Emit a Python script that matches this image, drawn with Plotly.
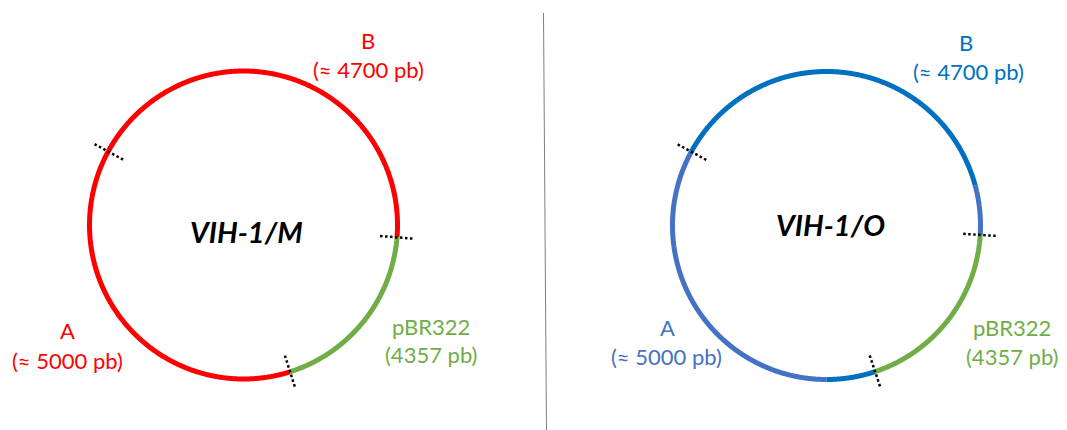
import numpy as np
import plotly.graph_objects as go

# --- Data ---------------------------------------------------------------
panels = ["VIH-1/M", "VIH-1/O"]
# boundary angles (degrees, counter-clockwise from 3 o'clock): A/B, B/pBR322, pBR322/A
left_ticks = [151.5, -4.6, -72.4]
right_ticks = [151.4, -3.5, -71.6]
labels_B = ["B", "(≈ 4700 pb)"]
labels_A = ["A", "(≈ 5000 pb)"]
labels_p = ["pBR322", "(4357 pb)"]

# --- Style --------------------------------------------------------------
RED = "#FF0000"
GREEN = "#70AD47"
DBLUE = "#0070C0"
LBLUE = "#4472C4"
R = 154
OFF = 8  # page body margin

fig = go.Figure()


def arc(cx, cy, a0, a1, color):
    t = np.radians(np.linspace(a0, a1, 400))
    fig.add_trace(go.Scatter(x=cx + R * np.cos(t), y=cy - R * np.sin(t), mode="lines",
                             line=dict(color=color, width=5, simplify=False),
                             hoverinfo="skip", showlegend=False))


def tick(cx, cy, a):
    t = np.radians(a)
    rr = np.array([R - 17, R + 18])
    fig.add_trace(go.Scatter(x=cx + rr * np.cos(t), y=cy - rr * np.sin(t), mode="lines",
                             line=dict(color="black", width=2.5, dash="2.5px,2.5px"),
                             hoverinfo="skip", showlegend=False))


# left plasmid
lcx, lcy = 243.5, 225
arc(lcx, lcy, left_ticks[0], 360 + left_ticks[2], RED)
arc(lcx, lcy, left_ticks[1], left_ticks[0], RED)
arc(lcx, lcy, 360 + left_ticks[2], 360 + left_ticks[1], GREEN)
for a in left_ticks:
    tick(lcx, lcy, a)

# right plasmid
rcx, rcy = 826.5, 225.5
arc(rcx, rcy, right_ticks[0], 270, LBLUE)
arc(rcx, rcy, 270, 360 + right_ticks[2], DBLUE)
arc(rcx, rcy, 360 + right_ticks[2], 360 + right_ticks[1], GREEN)
arc(rcx, rcy, right_ticks[1], 15, LBLUE)
arc(rcx, rcy, 15, right_ticks[0], DBLUE)
for a in right_ticks:
    tick(rcx, rcy, a)

# divider
fig.add_trace(go.Scatter(x=[543.5, 546.5], y=[13, 432], mode="lines",
                         line=dict(color="#7f7f7f", width=1), hoverinfo="skip",
                         showlegend=False))

FONT = "Lato"


def text(x, y, s, color, size=22, bold=False):
    fig.add_annotation(x=x, y=y, text=(f"<b><i>{s}</i></b>" if bold else s), showarrow=False,
                       font=dict(family=FONT, size=size, color=color),
                       xanchor="center", yanchor="middle")


# left labels
text(368, 40, labels_B[0], RED)
text(368, 69, labels_B[1], RED)
text(67, 330, labels_A[0], RED)
text(67, 360, labels_A[1], RED)
text(431, 326, labels_p[0], GREEN)
text(431, 354, labels_p[1], GREEN)
text(246, 231, panels[0], "black", size=29, bold=True)

# right labels
text(966, 42, labels_B[0], DBLUE)
text(968, 71, labels_B[1], DBLUE)
text(667, 327, labels_A[0], LBLUE)
text(666, 356, labels_A[1], LBLUE)
text(1012, 327, labels_p[0], GREEN)
text(1012, 356, labels_p[1], GREEN)
text(830, 224, panels[1], "black", size=29, bold=True)

fig.update_layout(width=1067 - OFF, height=430 - OFF, margin=dict(l=0, r=0, t=0, b=0),
                  paper_bgcolor="white", plot_bgcolor="white",
                  xaxis=dict(range=[OFF, 1067], visible=False, fixedrange=True),
                  yaxis=dict(range=[430, OFF], visible=False, fixedrange=True))

fig.write_html("out.html")
